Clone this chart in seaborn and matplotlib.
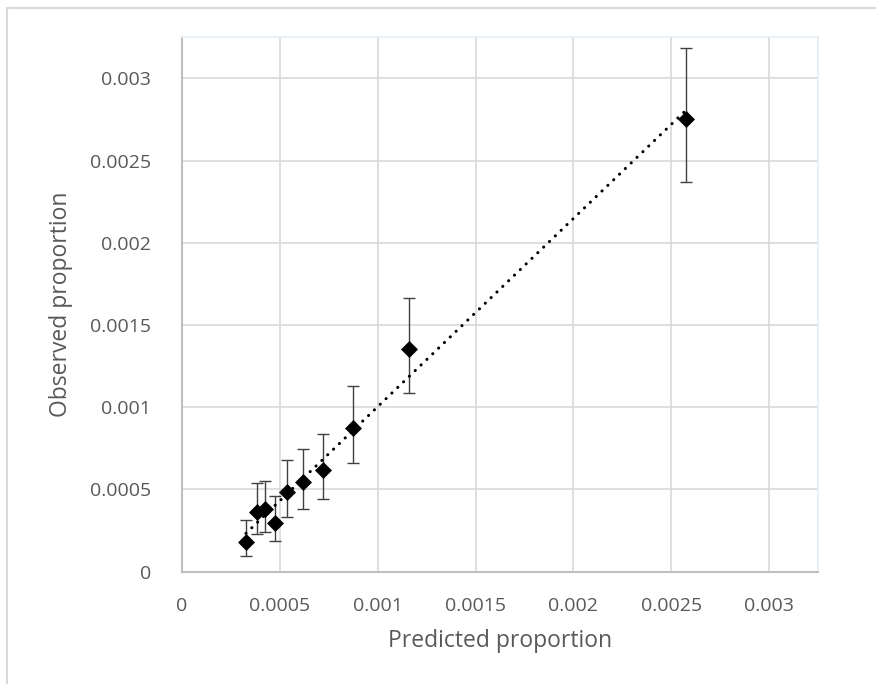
import numpy as np
import pandas as pd
import seaborn as sns
import matplotlib.pyplot as plt
from matplotlib.lines import Line2D

# values
predicted = [0.000328, 0.000383, 0.000427, 0.000476, 0.000536,
             0.000619, 0.000723, 0.000876, 0.001161, 0.002573]
observed = [0.000180, 0.000362, 0.000380, 0.000299, 0.000483,
            0.000545, 0.000618, 0.000875, 0.001356, 0.002756]
err_upper = [0.000315, 0.000538, 0.000553, 0.000462, 0.000679,
             0.000747, 0.000836, 0.001130, 0.001665, 0.003184]
err_lower = [0.000095, 0.000232, 0.000242, 0.000186, 0.000331,
             0.000380, 0.000444, 0.000662, 0.001089, 0.002370]
ticks = [0, 0.0005, 0.001, 0.0015, 0.002, 0.0025, 0.003]
tick_labels = ['0', '0.0005', '0.001', '0.0015', '0.002', '0.0025', '0.003']

df = pd.DataFrame({'predicted': predicted, 'observed': observed,
                   'upper': err_upper, 'lower': err_lower})

sns.set_theme(style='white')
plt.rcParams['font.family'] = ['Open Sans', 'DejaVu Sans']

fig = plt.figure(figsize=(8.76, 6.84), dpi=100)
ax = fig.add_axes([181.7 / 876, 1 - 571.7 / 684, (818.3 - 181.7) / 876, (571.7 - 37.3) / 684])

# outer chart frame (only left and top visible in the crop)
fig.add_artist(Line2D([7 / 876, 7 / 876], [0, 1 - 8 / 684], color='#d9d9d9', lw=1.5,
                      transform=fig.transFigure))
fig.add_artist(Line2D([7 / 876, 1], [1 - 8 / 684, 1 - 8 / 684], color='#d9d9d9', lw=1.5,
                      transform=fig.transFigure))

# error bars
ax.errorbar(df['predicted'], df['observed'],
            yerr=[df['observed'] - df['lower'], df['upper'] - df['observed']],
            fmt='none', ecolor='#404040', elinewidth=1, capsize=4.3, capthick=1, zorder=3)

# linear trendline (dotted)
slope, intercept = np.polyfit(df['predicted'], df['observed'], 1)
xs = np.array([df['predicted'].min(), df['predicted'].max()])
ax.plot(xs, slope * xs + intercept, color='black', lw=2.2,
        linestyle=(0, (0.05, 2.6)), dash_capstyle='round', zorder=4)

sns.scatterplot(data=df, x='predicted', y='observed', marker='D', s=75,
                color='black', edgecolor='black', linewidth=0, zorder=5, ax=ax)

ax.set_xlim(0, 0.00325)
ax.set_ylim(0, 0.00325)
ax.set_xticks(ticks)
ax.set_xticklabels(tick_labels)
ax.set_yticks(ticks)
ax.set_yticklabels(tick_labels)
ax.grid(True, color='#d9d9d9', lw=1.2)
ax.set_axisbelow(True)
ax.tick_params(axis='both', length=0, labelsize=14, colors='#595959')
ax.tick_params(axis='x', pad=18)
ax.tick_params(axis='y', pad=22)

for side in ['left', 'bottom']:
    ax.spines[side].set_color('#bfbfbf')
    ax.spines[side].set_linewidth(1.5)
for side in ['top', 'right']:
    ax.spines[side].set_color('#e6edf7')
    ax.spines[side].set_linewidth(1.2)

ax.set_xlabel('Predicted proportion', fontsize=16.5, color='#595959', labelpad=10)
ax.set_ylabel('Observed proportion', fontsize=16.5, color='#595959', labelpad=12)

fig.savefig('out.png', dpi=100)
